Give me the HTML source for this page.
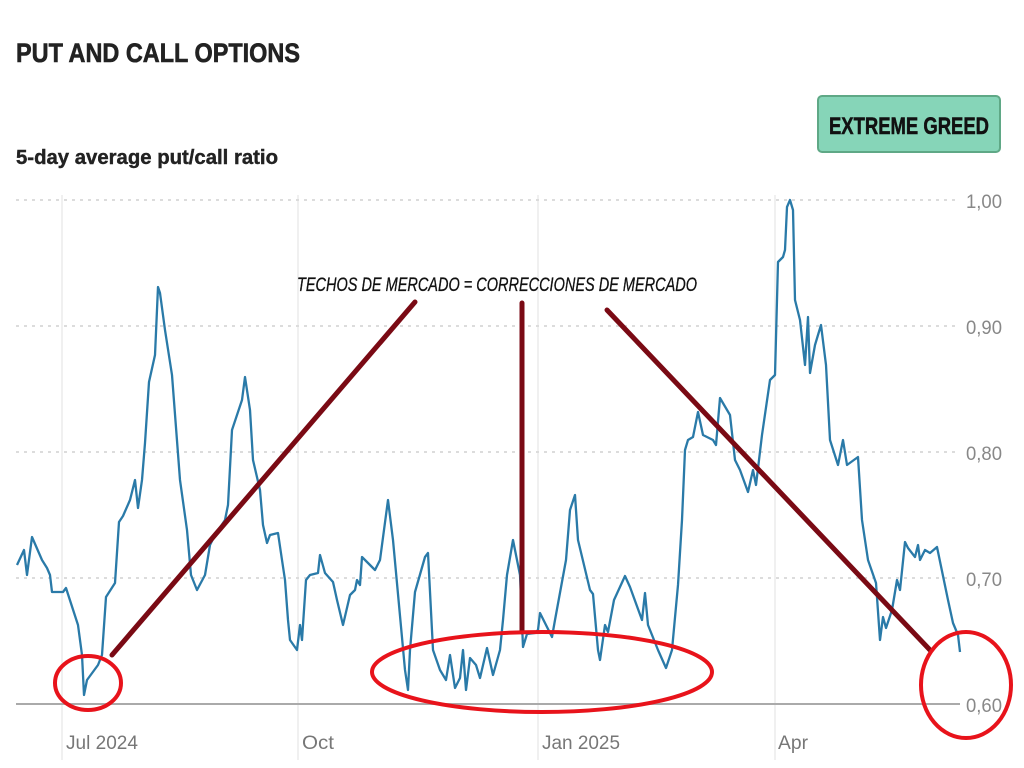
<!DOCTYPE html>
<html><head><meta charset="utf-8"><style>
html,body{margin:0;padding:0;background:#fff;width:1024px;height:768px;overflow:hidden}
svg{display:block}
</style></head><body>
<svg width="1024" height="768" viewBox="0 0 1024 768" xmlns="http://www.w3.org/2000/svg" font-family="Liberation Sans, sans-serif">
<text x="16" y="62" font-size="27" font-weight="bold" fill="#222" stroke="#222" stroke-width="0.6" textLength="284" lengthAdjust="spacingAndGlyphs">PUT AND CALL OPTIONS</text>
<text x="16" y="164" font-size="20" font-weight="bold" fill="#222" stroke="#222" stroke-width="0.4" textLength="262" lengthAdjust="spacingAndGlyphs">5-day average put/call ratio</text>
<rect x="818" y="96" width="182" height="56" rx="4" fill="#86d5b8" stroke="#5fa886" stroke-width="2"/>
<text x="909" y="134" font-size="24" font-weight="bold" fill="#111" stroke="#111" stroke-width="0.5" text-anchor="middle" textLength="160" lengthAdjust="spacingAndGlyphs">EXTREME GREED</text>
<g stroke="#ececec" stroke-width="1.5">
<line x1="62" y1="195" x2="62" y2="760"/><line x1="298" y1="195" x2="298" y2="760"/><line x1="538" y1="195" x2="538" y2="760"/><line x1="775" y1="195" x2="775" y2="760"/>
</g>
<g stroke="#dcdcdc" stroke-width="2" stroke-dasharray="3,5">
<line x1="16" y1="200" x2="958" y2="200"/><line x1="16" y1="326" x2="958" y2="326"/><line x1="16" y1="452" x2="958" y2="452"/><line x1="16" y1="578" x2="958" y2="578"/>
</g>
<line x1="16" y1="704" x2="960" y2="704" stroke="#aaa" stroke-width="2"/>
<g font-size="19" fill="#888">
<text x="966" y="208" textLength="36" lengthAdjust="spacingAndGlyphs">1,00</text>
<text x="966" y="334" textLength="36" lengthAdjust="spacingAndGlyphs">0,90</text>
<text x="966" y="460" textLength="36" lengthAdjust="spacingAndGlyphs">0,80</text>
<text x="966" y="586" textLength="36" lengthAdjust="spacingAndGlyphs">0,70</text>
<text x="966" y="712" textLength="36" lengthAdjust="spacingAndGlyphs">0,60</text>
</g>
<g font-size="19" fill="#777">
<text x="66" y="749" textLength="72" lengthAdjust="spacingAndGlyphs">Jul 2024</text>
<text x="302" y="749" textLength="32" lengthAdjust="spacingAndGlyphs">Oct</text>
<text x="542" y="749" textLength="78" lengthAdjust="spacingAndGlyphs">Jan 2025</text>
<text x="778" y="749" textLength="30" lengthAdjust="spacingAndGlyphs">Apr</text>
</g>
<polyline fill="none" stroke="#2a7aa8" stroke-width="2.3" stroke-linejoin="round" points="17,565 24,550 27,575 32,537 42,560 47,568 50,575 52,592 63,592 66,588 78,625 82,655 84,695 87,680 98,665 102,655 106,597 115,583 119,522 123,516 130,500 135,480 138,508 142,480 145,443 149,382 155,355 158,287 160,293 165,330 172,375 180,480 187,530 191,575 197,590 205,575 210,545 215,535 225,520 228,505 232,430 242,400 245,377 250,410 253,460 260,490 263,525 267,543 270,535 278,533 282,560 285,580 288,620 290,640 297,650 300,625 302,640 306,580 310,575 318,573 320,555 325,573 333,582 337,600 343,625 350,595 355,590 357,580 360,585 362,557 370,565 375,570 380,560 388,500 393,540 405,670 408,690 410,650 415,592 425,557 428,553 433,650 440,670 446,680 450,655 455,688 460,678 463,650 466,690 470,658 476,665 480,678 487,648 493,675 500,650 503,620 507,575 513,540 520,575 523,647 527,634 535,633 538,630 540,613 552,637 555,620 566,560 570,510 575,495 578,540 590,590 593,594 598,650 600,660 605,625 608,632 614,600 625,576 630,587 642,620 645,593 648,625 658,650 666,668 672,650 678,585 682,520 685,450 688,440 693,437 698,412 703,435 713,440 716,445 720,398 730,415 735,460 740,470 748,492 753,470 756,485 762,435 770,380 775,375 778,262 783,257 785,250 787,207 790,200 793,210 795,300 800,320 805,365 808,317 810,373 815,345 821,325 826,365 830,440 838,465 843,440 847,465 858,457 862,520 868,560 876,583 880,640 883,617 886,628 892,610 897,580 900,590 905,542 908,548 915,557 918,545 920,560 925,550 930,553 937,547 948,600 953,623 958,635 960,652"/>
<g stroke="#7a0a14" stroke-width="5" stroke-linecap="round">
<line x1="112" y1="655" x2="415" y2="302"/>
<line x1="522" y1="303" x2="522" y2="632"/>
<line x1="607" y1="310" x2="930" y2="650"/>
</g>
<g fill="none" stroke="#e8131b" stroke-width="4">
<ellipse cx="88" cy="683" rx="33" ry="27"/>
<ellipse cx="542" cy="672" rx="170" ry="40"/>
<ellipse cx="966" cy="685" rx="45" ry="53"/>
</g>
<text x="297" y="291" font-size="19" font-style="italic" fill="#111" stroke="#111" stroke-width="0.3" textLength="400" lengthAdjust="spacingAndGlyphs">TECHOS DE MERCADO = CORRECCIONES DE MERCADO</text>
</svg>
</body></html>
